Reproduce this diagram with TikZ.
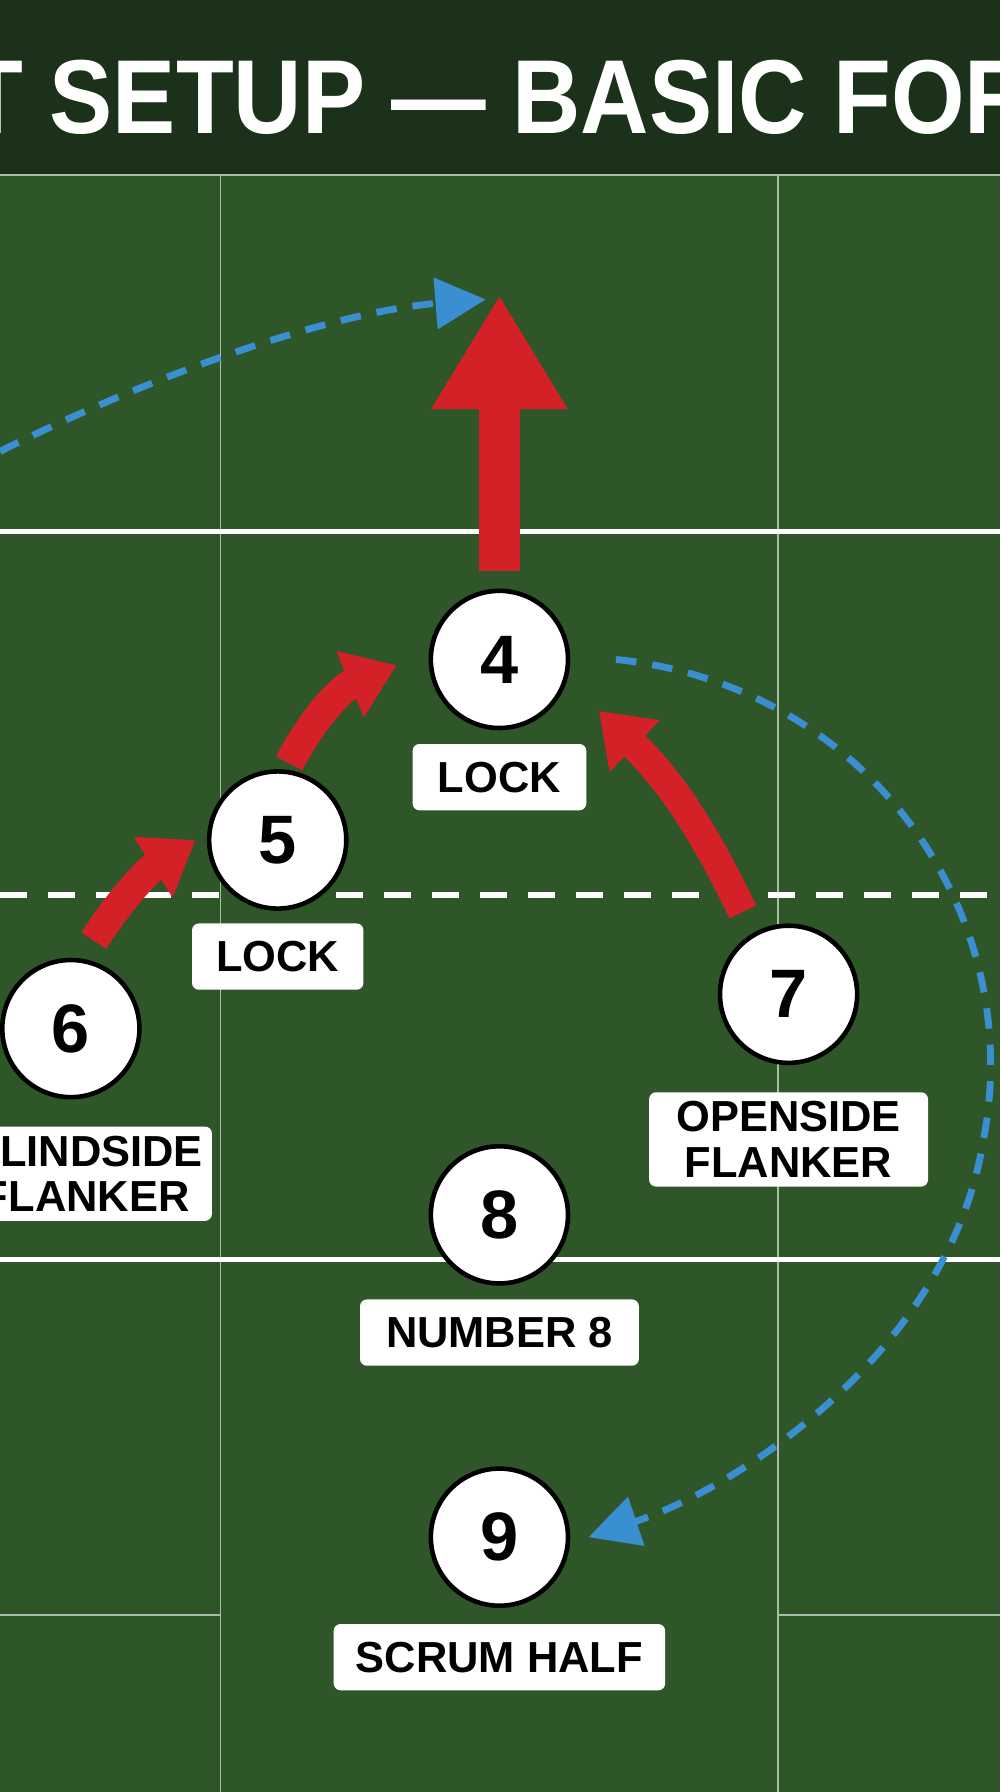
\documentclass[tikz,border=0pt]{standalone}
\usepackage{fontspec}
\setmainfont{Liberation Sans}
\usetikzlibrary{arrows.meta}
\definecolor{fieldgreen}{HTML}{2E5628}
\definecolor{titlegreen}{HTML}{1B3119}
\definecolor{arrowred}{HTML}{D42027}
\definecolor{runblue}{HTML}{3A8FD0}
\tikzset{
  player/.style={circle, draw=black, line width=2pt, fill=white, minimum size=60pt, inner sep=0pt, font=\bfseries\fontsize{30}{30}\selectfont},
  tag/.style={rounded corners=3pt, fill=white, inner sep=4pt, align=center, font=\bfseries\fontsize{19}{20}\selectfont},
  push/.style={arrowred, line width=13pt, -{Triangle[width=30pt, length=22pt]}},
  run/.style={runblue, line width=3pt, dash pattern=on 9pt off 7pt, -{Triangle[width=22pt, length=22pt]}},
  thin/.style={white!60!fieldgreen, line width=0.8pt}
}
\begin{document}
\begin{tikzpicture}[x=0.5pt,y=-0.5pt]
\useasboundingbox (0,0) rectangle (875,1568);
\begin{scope}
\clip (0,0) rectangle (875,1568);
% field and title bar
\fill[fieldgreen] (0,0) rectangle (875,1568);
\fill[titlegreen] (0,0) rectangle (875,152);
\node[white, font=\bfseries\fontsize{46}{46}\selectfont, xscale=0.9, transform shape] (title) at (437,85) {T SETUP — BASIC FOR};
% pitch lines
\draw[thin] (0,153) -- (875,153);
\draw[thin] (193,153) -- (193,1568);
\draw[thin] (681,153) -- (681,1568);
\draw[thin] (0,1413) -- (193,1413);
\draw[thin] (681,1413) -- (875,1413);
\draw[white, line width=2.5pt] (0,465) -- (875,465);
\draw[white, line width=2.5pt] (0,1102) -- (875,1102);
\draw[white, line width=2.5pt, dash pattern=on 12pt off 9pt] (0,783) -- (875,783);
% players
\node[player] (p4) at (437,577) {4};
\node[player] (p5) at (243,735) {5};
\node[player] (p6) at (62,900) {6};
\node[player] (p7) at (690,870) {7};
\node[player] (p8) at (437,1063) {8};
\node[player] (p9) at (437,1345) {9};
\node[tag, minimum width=76pt, minimum height=29pt] (l4) at (437,680) {LOCK};
\node[tag, minimum width=75pt, minimum height=29pt] (l5) at (243,837) {LOCK};
\node[tag, minimum width=110pt] (l6) at (75,1027) {BLINDSIDE\\FLANKER};
\node[tag, minimum width=122pt] (l7) at (690,997) {OPENSIDE\\FLANKER};
\node[tag, minimum width=122pt, minimum height=29pt] (l8) at (437,1166) {NUMBER 8};
\node[tag, minimum width=145pt, minimum height=29pt] (l9) at (437,1450) {SCRUM HALF};
% forward drive
\coordinate (drive) at (437,258);
\draw[arrowred, line width=18pt, -{Triangle[width=56pt, length=50pt]}] (p4.north) ++(0,-15) -- (drive);
% support lines
\draw[push] ([shift={(20,-15)}]p6.north) to[bend left=12] ([xshift=-5]p5.west);
\draw[push] ([shift={(10,-5)}]p5.north) to[bend left=20] ([shift={(-28,5)}]p4.west);
\draw[push] ([shift={(-40,-10)}]p7.north) to[bend right=10] ([shift={(25,45)}]p4.east);
% runs
\coordinate (wide) at (0,395);
\draw[run] (wide) .. controls (150,320) and (300,272) .. ([shift={(-12,4)}]drive);
\draw[run] ([xshift=20]p4.east) .. controls (760,600) and (900,800) .. (860,1000) .. controls (830,1180) and (650,1300) .. ([xshift=8]p9.east);
\end{scope}
\end{tikzpicture}
\end{document}
